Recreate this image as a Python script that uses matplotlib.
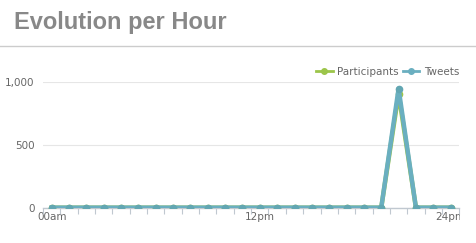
import matplotlib.pyplot as plt
from matplotlib.lines import Line2D
from matplotlib.transforms import Bbox, TransformedBbox

# hourly data, 0..23
hours = list(range(24))
participants = [0, 0, 0, 0, 0, 0, 0, 0, 0, 0, 0, 0,
                0, 0, 0, 0, 0, 0, 0, 0, 910, 0, 0, 0]
tweets = [0, 0, 0, 0, 0, 0, 0, 0, 0, 0, 0, 0,
          0, 0, 0, 0, 0, 0, 0, 0, 950, 0, 0, 0]
tick_pos = [0, 12, 23]
tick_labels = ['00am', '12pm', '24pm']
y_ticks = [0, 500, 1000]
y_labels = ['0', '500', '1,000']

W, H = 476, 243
fig = plt.figure(figsize=(W / 100, H / 100), dpi=100)
fig.patch.set_facecolor('white')

# title and separator
fig.text(14 / W, 1 - 22 / H, 'Evolution per Hour', fontsize=17, fontweight='bold',
         color='#888888', family='Liberation Sans', va='center', ha='left')
fig.add_artist(Line2D([0, 1], [1 - 46.3 / H, 1 - 46.3 / H], color='#cccccc', lw=1.0,
                      transform=fig.transFigure))

x0, x1 = 43 / W, 459.3 / W
y0, y1 = 1 - 207.7 / H, 1 - 82.3 / H
ax = fig.add_axes([x0, y0, x1 - x0, y1 - y0])

green = '#9cc54a'
blue = '#6aafc0'
# markers are clipped by the plot area like in the original
ax.plot(hours, participants, color=green, lw=3.2, marker='o', markersize=5.5,
        markeredgewidth=0, zorder=3)
ax.plot(hours, tweets, color=blue, lw=3.2, marker='o', markersize=5.5,
        markerfacecolor='#62a6b2', markeredgewidth=0, zorder=4)

ax.set_xlim(-0.5, 23.5)
ax.set_ylim(0, 1000)

for s in ['top', 'right', 'left']:
    ax.spines[s].set_visible(False)
ax.spines['bottom'].set_color('#c0c8d0')
ax.spines['bottom'].set_linewidth(1.0)
ax.spines['bottom'].set_zorder(2)

ax.set_yticks(y_ticks)
ax.set_yticklabels(y_labels)
ax.yaxis.grid(True, color='#e6e6e6', lw=0.8)
ax.set_axisbelow(True)
ax.tick_params(axis='y', length=0, pad=6, labelsize=7.5, labelcolor='#666666')

ax.set_xticks(tick_pos)
ax.set_xticklabels(tick_labels)
ax.set_xticks([h - 0.5 for h in range(25)], minor=True)
ax.tick_params(axis='x', which='major', length=0, pad=3, labelsize=7.5,
               labelcolor='#666666')
ax.tick_params(axis='x', which='minor', length=4, width=0.8, color='#c0c8d0')

# last label is cut at the right edge of the plot
clip = TransformedBbox(Bbox([[0, 0], [x1 + 1 / W, 1]]), fig.transFigure)
for lab in ax.get_xticklabels():
    lab.set_clip_box(clip)
    lab.set_clip_on(True)

handles = [Line2D([], [], color=green, lw=2, marker='o', markersize=4),
           Line2D([], [], color=blue, lw=2, marker='o', markersize=4)]
fig.legend(handles, ['Participants', 'Tweets'], loc='center right',
           bbox_to_anchor=(459 / W, 1 - 71.7 / H), ncol=2, frameon=False,
           fontsize=7.5, labelcolor='#666666', handlelength=1.6,
           handletextpad=0.4, columnspacing=0.4, borderpad=0, borderaxespad=0)

fig.savefig('out.png', dpi=100)
